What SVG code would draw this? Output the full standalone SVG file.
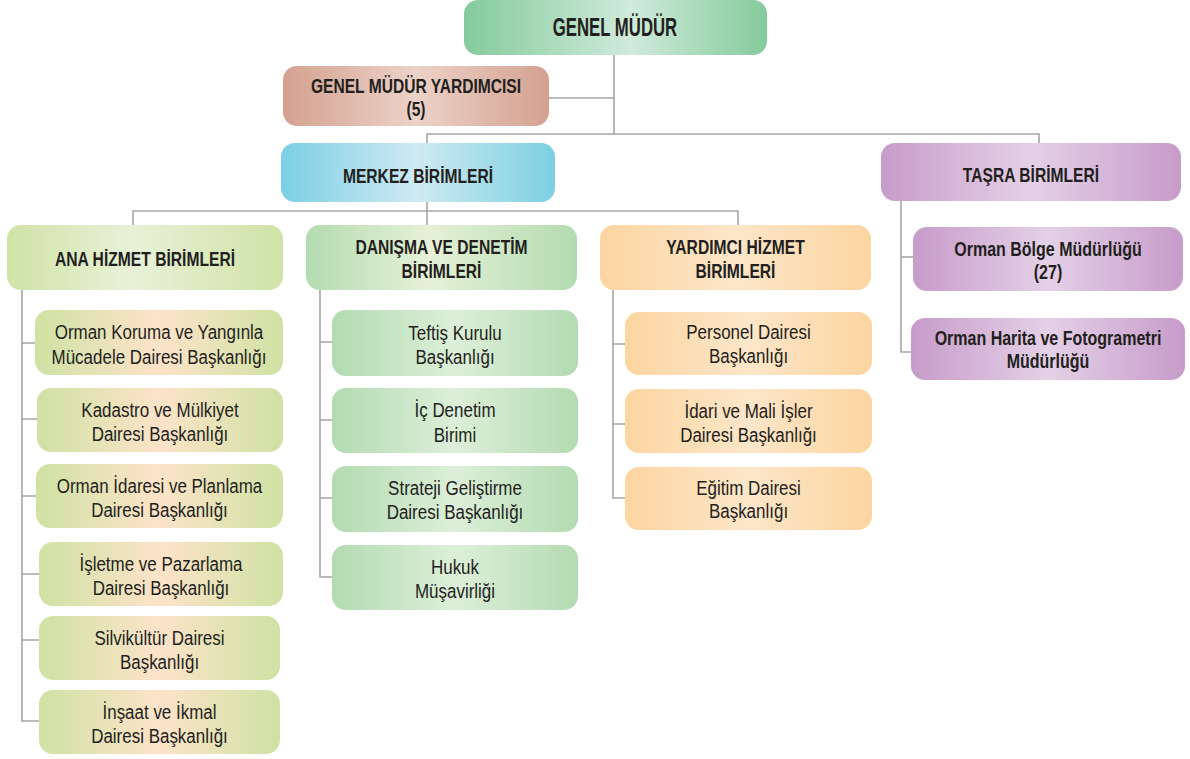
<svg xmlns="http://www.w3.org/2000/svg" width="1190" height="759" viewBox="0 0 1190 759">
<defs>
<style>
.b{font-family:"Liberation Sans",Arial,sans-serif;font-weight:bold;fill:#231f20;text-anchor:middle}
.r{font-family:"Liberation Sans",Arial,sans-serif;fill:#231f20;text-anchor:middle;font-size:19.5px}
.h{font-size:21px}
.c line,.c path{stroke:#a5a5a5;stroke-width:1.6;fill:none}
</style>
<linearGradient id="gGM" x1="0" x2="1" y1="0" y2="0"><stop offset="0" stop-color="#84cb9c"/><stop offset="0.55" stop-color="#d0eadb"/><stop offset="1" stop-color="#84cb9c"/></linearGradient>
<linearGradient id="gGMY" x1="0" x2="1"><stop offset="0" stop-color="#d4a190"/><stop offset="0.5" stop-color="#ecd2c8"/><stop offset="1" stop-color="#d4a190"/></linearGradient>
<linearGradient id="gMer" x1="0" x2="1"><stop offset="0" stop-color="#7ccfe3"/><stop offset="0.5" stop-color="#cfeaf2"/><stop offset="1" stop-color="#7ccfe3"/></linearGradient>
<linearGradient id="gTas" x1="0" x2="1"><stop offset="0" stop-color="#c79bca"/><stop offset="0.5" stop-color="#e4d1e7"/><stop offset="1" stop-color="#c79bca"/></linearGradient>
<linearGradient id="gAnaH" x1="0" x2="1"><stop offset="0" stop-color="#cfe3a6"/><stop offset="0.45" stop-color="#e8f1d8"/><stop offset="1" stop-color="#cfe3a6"/></linearGradient>
<linearGradient id="gAnaC" x1="0" x2="1"><stop offset="0" stop-color="#cfe2a4"/><stop offset="0.5" stop-color="#fde3c9"/><stop offset="1" stop-color="#cfe2a4"/></linearGradient>
<linearGradient id="gDanH" x1="0" x2="1"><stop offset="0" stop-color="#b3dbb1"/><stop offset="0.45" stop-color="#e6f1d7"/><stop offset="1" stop-color="#b3dbb1"/></linearGradient>
<linearGradient id="gDanC" x1="0" x2="1"><stop offset="0" stop-color="#b3dbb1"/><stop offset="0.5" stop-color="#ddefd9"/><stop offset="1" stop-color="#b3dbb1"/></linearGradient>
<linearGradient id="gYar" x1="0" x2="1"><stop offset="0" stop-color="#fcd5a0"/><stop offset="0.5" stop-color="#fde6c9"/><stop offset="1" stop-color="#fcd5a0"/></linearGradient>
</defs>
<rect width="1190" height="759" fill="#ffffff"/>

<g id="connectors" class="c">
<path d="M614 55V134"/>
<path d="M549 98H614"/>
<path d="M427 143V134H1039V143"/>
<path d="M427 202V225"/>
<path d="M133 225V211H738V225"/>
<path d="M22 290V721H39"/>
<path d="M22 343H35M22 419H37M22 496H36M22 574H39M22 640H39"/>
<path d="M320 290V577H332"/>
<path d="M320 342H332M320 420H332M320 498H332"/>
<path d="M613 290V498H625"/>
<path d="M613 344H625M613 424H625"/>
<path d="M901 201V352H911"/>
<path d="M901 257H913"/>
</g>

<g id="genel-mudur">
<rect x="464" y="0" width="303" height="55" rx="14" fill="url(#gGM)"/>
<text class="b" font-size="25" transform="translate(615,36) scale(0.67,1)">GENEL MÜDÜR</text>
</g>
<g id="genel-mudur-yardimcisi">
<rect x="283" y="66" width="266" height="60" rx="14" fill="url(#gGMY)"/>
<text class="b" font-size="20" transform="translate(416,93) scale(0.78,1)">GENEL MÜDÜR YARDIMCISI</text>
<text class="b" font-size="20" transform="translate(416,116) scale(0.78,1)">(5)</text>
</g>
<g id="merkez-birimleri">
<rect x="281" y="143" width="274" height="59" rx="14" fill="url(#gMer)"/>
<text class="b h" transform="translate(418,182.5) scale(0.745,1)">MERKEZ BİRİMLERİ</text>
</g>
<g id="tasra-birimleri">
<rect x="881" y="143" width="300" height="58" rx="14" fill="url(#gTas)"/>
<text class="b h" transform="translate(1031,181.5) scale(0.745,1)">TAŞRA BİRİMLERİ</text>
</g>
<g id="orman-bolge">
<rect x="913" y="227" width="270" height="64" rx="14" fill="url(#gTas)"/>
<text class="b" font-size="20" transform="translate(1048,256) scale(0.8,1)">Orman Bölge Müdürlüğü</text>
<text class="b" font-size="20" transform="translate(1048,279) scale(0.8,1)">(27)</text>
</g>
<g id="orman-harita">
<rect x="911" y="318" width="274" height="62" rx="14" fill="url(#gTas)"/>
<text class="b" font-size="20" transform="translate(1048,345) scale(0.8,1)">Orman Harita ve Fotogrametri</text>
<text class="b" font-size="20" transform="translate(1048,368) scale(0.8,1)">Müdürlüğü</text>
</g>

<g id="ana-hizmet">
<rect x="7" y="225" width="276" height="65" rx="14" fill="url(#gAnaH)"/>
<text class="b h" transform="translate(145,266) scale(0.745,1)">ANA HİZMET BİRİMLERİ</text>
</g>
<g id="danisma-denetim">
<rect x="306" y="225" width="271" height="65" rx="14" fill="url(#gDanH)"/>
<text class="b h" transform="translate(441.5,254) scale(0.745,1)">DANIŞMA VE DENETİM</text>
<text class="b h" transform="translate(441.5,278) scale(0.745,1)">BİRİMLERİ</text>
</g>
<g id="yardimci-hizmet">
<rect x="600" y="225" width="271" height="65" rx="14" fill="url(#gYar)"/>
<text class="b h" transform="translate(735.5,254) scale(0.745,1)">YARDIMCI HİZMET</text>
<text class="b h" transform="translate(735.5,278) scale(0.745,1)">BİRİMLERİ</text>
</g>

<g id="orman-koruma">
<rect x="35" y="310" width="248" height="65" rx="14" fill="url(#gAnaC)"/>
<text class="r" transform="translate(159,339) scale(0.87,1)">Orman Koruma ve Yangınla</text>
<text class="r" transform="translate(159,364) scale(0.87,1)">Mücadele Dairesi Başkanlığı</text>
</g>
<g id="kadastro">
<rect x="37" y="388" width="246" height="64" rx="14" fill="url(#gAnaC)"/>
<text class="r" transform="translate(160,417) scale(0.87,1)">Kadastro ve Mülkiyet</text>
<text class="r" transform="translate(160,441) scale(0.87,1)">Dairesi Başkanlığı</text>
</g>
<g id="orman-idaresi">
<rect x="36" y="464" width="247" height="64" rx="14" fill="url(#gAnaC)"/>
<text class="r" transform="translate(159.5,493) scale(0.87,1)">Orman İdaresi ve Planlama</text>
<text class="r" transform="translate(159.5,517) scale(0.87,1)">Dairesi Başkanlığı</text>
</g>
<g id="isletme">
<rect x="39" y="542" width="244" height="64" rx="14" fill="url(#gAnaC)"/>
<text class="r" transform="translate(161,571) scale(0.87,1)">İşletme ve Pazarlama</text>
<text class="r" transform="translate(161,595) scale(0.87,1)">Dairesi Başkanlığı</text>
</g>
<g id="silvikultur">
<rect x="39" y="616" width="241" height="64" rx="14" fill="url(#gAnaC)"/>
<text class="r" transform="translate(159.5,645) scale(0.87,1)">Silvikültür Dairesi</text>
<text class="r" transform="translate(159.5,669) scale(0.87,1)">Başkanlığı</text>
</g>
<g id="insaat">
<rect x="39" y="690" width="241" height="64" rx="14" fill="url(#gAnaC)"/>
<text class="r" transform="translate(159.5,719) scale(0.87,1)">İnşaat ve İkmal</text>
<text class="r" transform="translate(159.5,743) scale(0.87,1)">Dairesi Başkanlığı</text>
</g>

<g id="teftis">
<rect x="332" y="310" width="246" height="66" rx="14" fill="url(#gDanC)"/>
<text class="r" transform="translate(455,340) scale(0.87,1)">Teftiş Kurulu</text>
<text class="r" transform="translate(455,364) scale(0.87,1)">Başkanlığı</text>
</g>
<g id="ic-denetim">
<rect x="332" y="388" width="246" height="65" rx="14" fill="url(#gDanC)"/>
<text class="r" transform="translate(455,417) scale(0.87,1)">İç Denetim</text>
<text class="r" transform="translate(455,442) scale(0.87,1)">Birimi</text>
</g>
<g id="strateji">
<rect x="332" y="466" width="246" height="66" rx="14" fill="url(#gDanC)"/>
<text class="r" transform="translate(455,495) scale(0.87,1)">Strateji Geliştirme</text>
<text class="r" transform="translate(455,519) scale(0.87,1)">Dairesi Başkanlığı</text>
</g>
<g id="hukuk">
<rect x="332" y="545" width="246" height="65" rx="14" fill="url(#gDanC)"/>
<text class="r" transform="translate(455,574) scale(0.87,1)">Hukuk</text>
<text class="r" transform="translate(455,598) scale(0.87,1)">Müşavirliği</text>
</g>

<g id="personel">
<rect x="625" y="312" width="247" height="63" rx="14" fill="url(#gYar)"/>
<text class="r" transform="translate(748.5,339) scale(0.87,1)">Personel Dairesi</text>
<text class="r" transform="translate(748.5,363) scale(0.87,1)">Başkanlığı</text>
</g>
<g id="idari-mali">
<rect x="625" y="389" width="247" height="64" rx="14" fill="url(#gYar)"/>
<text class="r" transform="translate(748.5,418) scale(0.87,1)">İdari ve Mali İşler</text>
<text class="r" transform="translate(748.5,442) scale(0.87,1)">Dairesi Başkanlığı</text>
</g>
<g id="egitim">
<rect x="625" y="467" width="247" height="63" rx="14" fill="url(#gYar)"/>
<text class="r" transform="translate(748.5,495) scale(0.87,1)">Eğitim Dairesi</text>
<text class="r" transform="translate(748.5,518) scale(0.87,1)">Başkanlığı</text>
</g>
</svg>
